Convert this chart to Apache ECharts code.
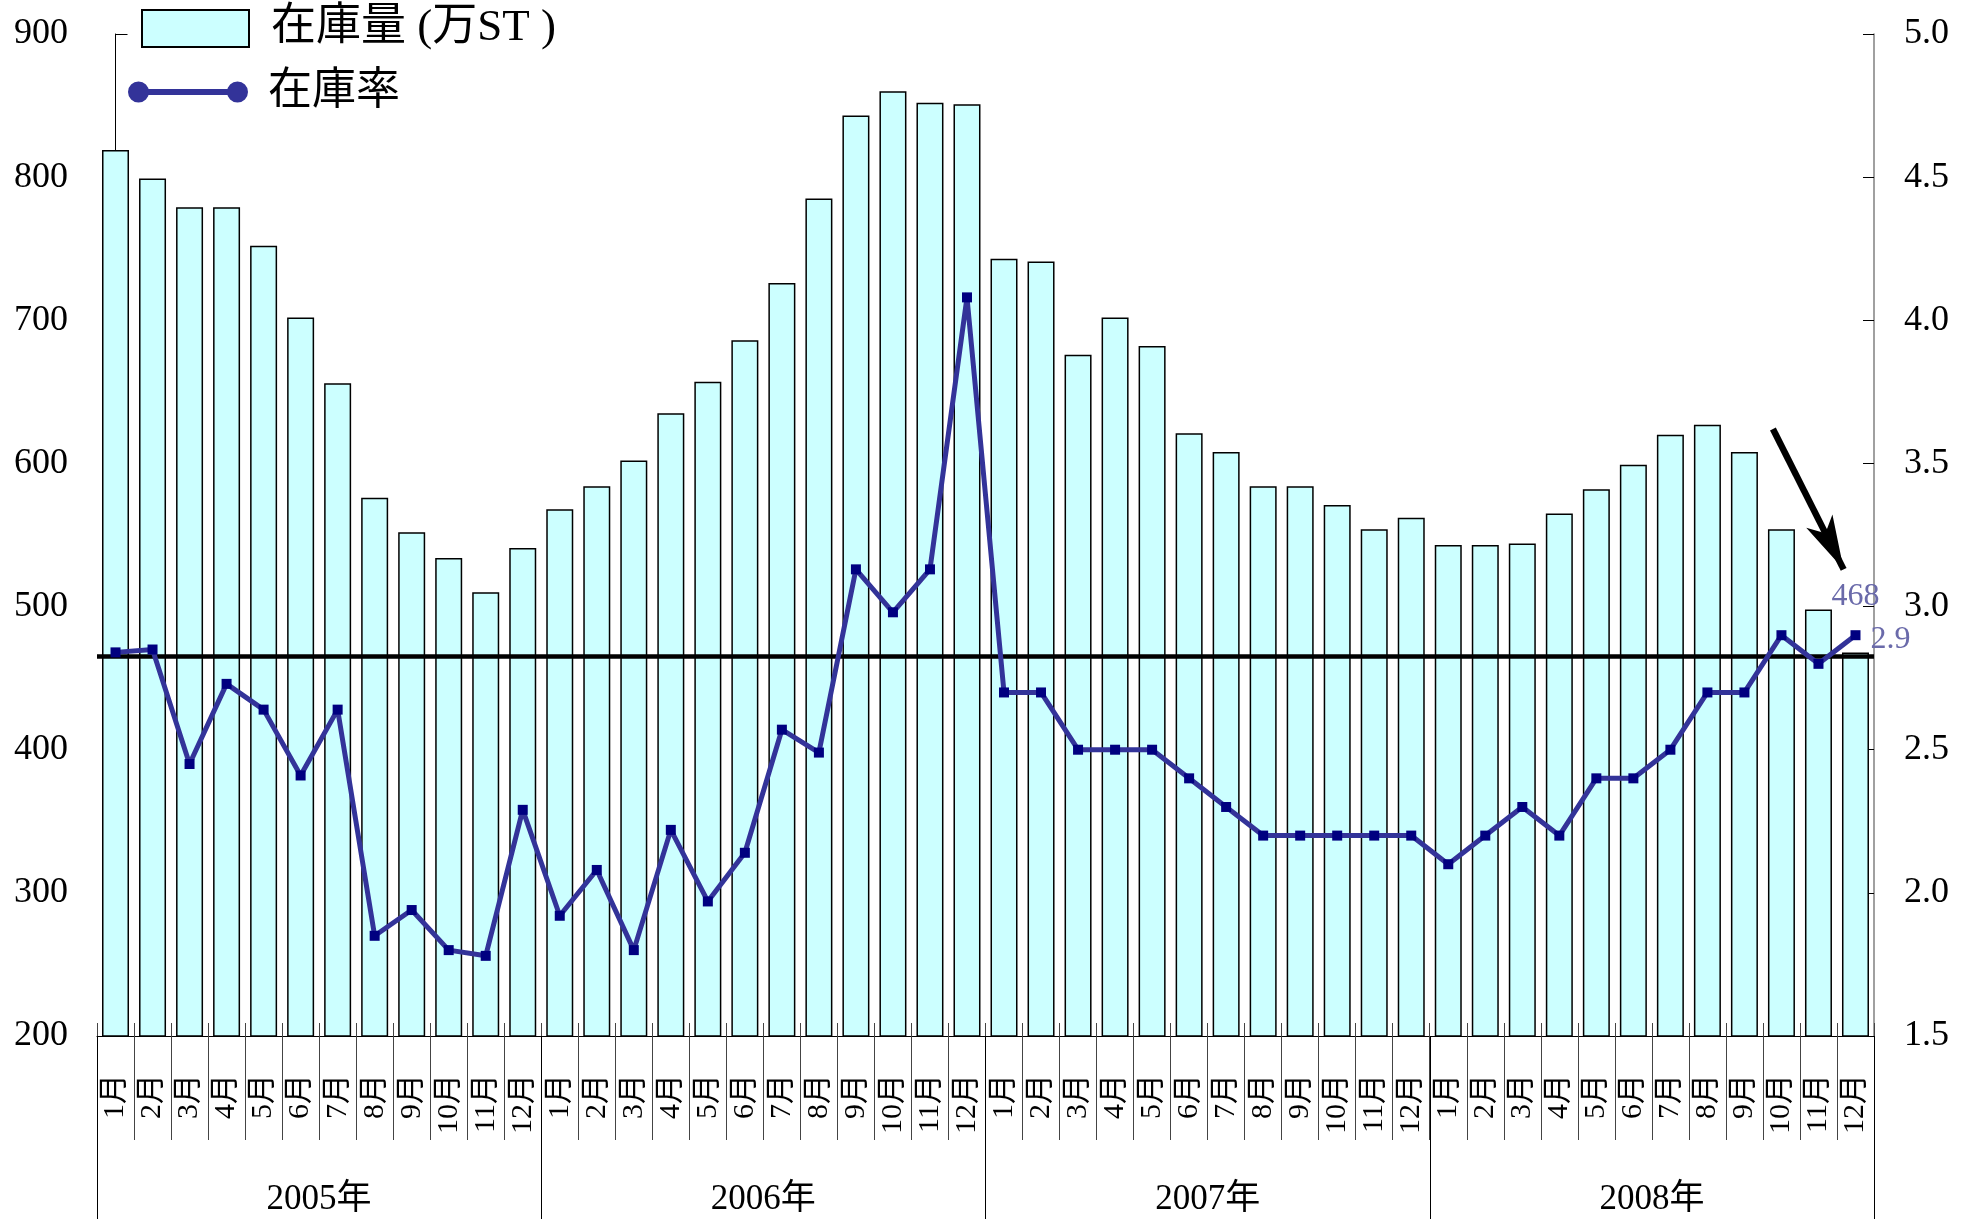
<!DOCTYPE html>
<html>
<head>
<meta charset="utf-8">
<script src="https://cdn.jsdelivr.net/npm/echarts@6/dist/echarts.min.js"></script>
<style>
html,body{margin:0;padding:0;background:#fff;}
#c{width:1970px;height:1219px;}
</style>
</head>
<body>
<div id="c"></div>
<script>
// ---- data ----
const monthLabels = ['1月','2月','3月','4月','5月','6月','7月','8月','9月','10月','11月','12月',
                     '1月','2月','3月','4月','5月','6月','7月','8月','9月','10月','11月','12月',
                     '1月','2月','3月','4月','5月','6月','7月','8月','9月','10月','11月','12月',
                     '1月','2月','3月','4月','5月','6月','7月','8月','9月','10月','11月','12月'];
const yearLabels = ['2005年','2006年','2007年','2008年'];
const stockValues = [819, 799, 779, 779, 752, 702, 656, 576, 552, 534, 510, 541,
                     568, 584, 602, 635, 657, 686, 726, 785, 843, 860, 852, 851,
                     743, 741, 676, 702, 682, 621, 608, 584, 584, 571, 554, 562,
                     543, 543, 544, 565, 582, 599, 620, 627, 608, 554, 498, 468];
const ratioValues = [2.84, 2.85, 2.45, 2.73, 2.64, 2.41, 2.64, 1.85, 1.94, 1.80, 1.78, 2.29,
                     1.92, 2.08, 1.80, 2.22, 1.97, 2.14, 2.57, 2.49, 3.13, 2.98, 3.13, 4.08,
                     2.70, 2.70, 2.50, 2.50, 2.50, 2.40, 2.30, 2.20, 2.20, 2.20, 2.20, 2.20,
                     2.10, 2.20, 2.30, 2.20, 2.40, 2.40, 2.50, 2.70, 2.70, 2.90, 2.80, 2.90];
const referenceLevel = 465;
const leftTicks = {min: 200, max: 900, interval: 100};
const rightTicks = {min: 1.5, max: 5.0, interval: 0.5};
// arrow annotation in data space: [month index, left-axis value]
const arrowFrom = [44.77, 624];
const arrowTo = [46.68, 526];

// ---- chart ----
const FONT = "'Liberation Serif', 'Noto Sans CJK JP', serif";
const last = stockValues.length - 1;
const labelColor = '#6a6aaa';

const barData = stockValues.map((v, i) => i === last ? {
  value: v,
  label: {show: true, position: 'top', distance: 40, formatter: '{c}',
          color: labelColor, fontSize: 32, fontFamily: FONT}
} : v);
const lineData = ratioValues.map((v, i) => i === last ? {
  value: v,
  label: {show: true, position: 'right', distance: 10, offset: [0, 4],
          formatter: (p) => p.value.toFixed(1),
          color: labelColor, fontSize: 32, fontFamily: FONT}
} : v);

const chart = echarts.init(document.getElementById('c'));
chart.setOption({
  animation: false,
  backgroundColor: '#fff',
  grid: {left: 97, right: 96, top: 34, bottom: 183, containLabel: false},
  legend: [{
    data: [{name: '在庫量(万ST)', icon: 'rect', itemStyle: {borderWidth: 2, borderColor: '#000'}}],
    left: 141, top: 6, padding: 0,
    itemWidth: 107, itemHeight: 37,
    selectedMode: false,
    formatter: (n) => n.replace('(', ' (').replace(')', ' )'),
    textStyle: {fontSize: 45, fontFamily: FONT, color: '#000', padding: [10, 0, 0, 17]}
  }, {
    data: [{name: '在庫率',
            icon: 'path://M0,10.5 a10.5,10.5 0 1,0 21,0 a10.5,10.5 0 1,0 -21,0 Z M99,10.5 a10.5,10.5 0 1,0 21,0 a10.5,10.5 0 1,0 -21,0 Z M20,7.5 L20,13.5 L100,13.5 L100,7.5 Z',
            itemStyle: {color: '#333399', borderWidth: 0}}],
    left: 128, top: 70, padding: 0,
    itemWidth: 120, itemHeight: 21,
    selectedMode: false,
    textStyle: {fontSize: 44, fontFamily: FONT, color: '#000', padding: [2, 0, 0, 15]}
  }],
  xAxis: [{
    type: 'category', data: monthLabels, position: 'bottom',
    axisLine: {show: true, lineStyle: {color: '#000', width: 1}},
    axisTick: {show: true, interval: 0, length: 104, lineStyle: {color: '#444', width: 1}},
    axisLabel: {interval: 0, rotate: 90, margin: 38, fontSize: 30, fontFamily: FONT, color: '#000'},
    splitLine: {show: false}
  }, {
    type: 'category', data: monthLabels, position: 'bottom',
    axisLine: {show: false},
    axisTick: {show: true, inside: true, interval: 0, length: 13, lineStyle: {color: '#444', width: 1}},
    axisLabel: {show: false},
    splitLine: {show: false}
  }, {
    type: 'category', data: yearLabels, position: 'bottom',
    axisLine: {show: false},
    axisTick: {show: true, interval: 0, length: 183, lineStyle: {color: '#000', width: 1}},
    axisLabel: {interval: 0, margin: 146, fontSize: 35, fontFamily: FONT, color: '#000'},
    splitLine: {show: false}
  }, {
    type: 'value', show: false, min: -0.5, max: monthLabels.length - 0.5, position: 'bottom'
  }],
  yAxis: [{
    type: 'value', position: 'left',
    min: leftTicks.min, max: leftTicks.max, interval: leftTicks.interval,
    axisLine: {show: true, lineStyle: {color: '#000', width: 1}},
    axisTick: {show: true, inside: true, length: 12, lineStyle: {color: '#000'}},
    axisLabel: {margin: 29, fontSize: 36, fontFamily: FONT, color: '#000', padding: [7, 0, 0, 0]},
    splitLine: {show: false}
  }, {
    type: 'value', position: 'right',
    min: rightTicks.min, max: rightTicks.max, interval: rightTicks.interval,
    axisLine: {show: true, lineStyle: {color: '#808080', width: 1.5}},
    axisTick: {show: true, inside: true, length: 11, lineStyle: {color: '#000'}},
    axisLabel: {margin: 30, fontSize: 36, fontFamily: FONT, color: '#000', padding: [7, 0, 0, 0],
                formatter: (v) => v.toFixed(1)},
    splitLine: {show: false}
  }],
  series: [{
    name: '在庫量(万ST)', type: 'bar',
    xAxisIndex: 0, yAxisIndex: 0,
    data: barData,
    barWidth: 27,
    itemStyle: {color: '#ccffff', borderColor: '#000', borderWidth: 1.5},
    z: 2,
    markLine: {
      silent: true, symbol: 'none',
      label: {show: false},
      lineStyle: {color: '#000', width: 4.5, type: 'solid'},
      data: [{yAxis: referenceLevel}]
    }
  }, {
    name: '在庫率', type: 'line',
    xAxisIndex: 0, yAxisIndex: 1,
    data: lineData,
    symbol: 'rect', symbolSize: 10,
    lineStyle: {color: '#333399', width: 5},
    itemStyle: {color: '#000080'},
    z: 5
  }, {
    name: 'arrow', type: 'line',
    xAxisIndex: 3, yAxisIndex: 0,
    data: [arrowFrom, arrowTo],
    symbol: 'none',
    lineStyle: {opacity: 0},
    itemStyle: {color: '#000'},
    z: 6,
    markLine: {
      silent: true,
      symbol: ['none', 'arrow'],
      symbolSize: [10, 40],
      label: {show: false},
      itemStyle: {color: '#000'},
      lineStyle: {color: '#000', width: 6.5, type: 'solid', opacity: 1},
      data: [[
        {coord: arrowFrom, symbol: 'none'},
        {coord: arrowTo, symbol: 'arrow', symbolSize: [22, 54], itemStyle: {color: '#000'}}
      ]]
    }
  }]
});
</script>
</body>
</html>
